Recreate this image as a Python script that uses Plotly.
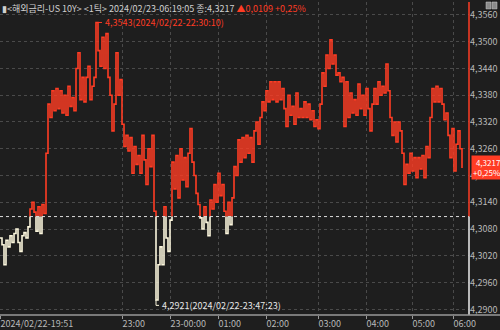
import plotly.graph_objects as go

# ---- data (1-tick series) ----
prices = [
    4.3060, 4.3045, 4.3000, 4.3055, 4.3040, 4.3065, 4.3050, 4.3070, 4.3080, 4.3050,
    4.3030, 4.3065, 4.3072, 4.3060, 4.3085, 4.3125, 4.3140, 4.3118, 4.3075, 4.3130,
    4.3070, 4.3135, 4.3115, 4.3250, 4.3360, 4.3330, 4.3390, 4.3345, 4.3395, 4.3350,
    4.3390, 4.3340, 4.3380, 4.3335, 4.3400, 4.3355, 4.3375, 4.3345, 4.3440, 4.3475,
    4.3370, 4.3420, 4.3365, 4.3420, 4.3445, 4.3370, 4.3400, 4.3420, 4.3543, 4.3480,
    4.3445, 4.3510, 4.3440, 4.3518, 4.3420, 4.3380, 4.3300, 4.3360, 4.3475, 4.3380,
    4.3415, 4.3315, 4.3265, 4.3290, 4.3255, 4.3285, 4.3205, 4.3265, 4.3225, 4.3245,
    4.3205, 4.3290, 4.3235, 4.3180, 4.3260, 4.3220, 4.3290, 4.3120, 4.2921, 4.3000,
    4.3040, 4.3000, 4.3130, 4.3060, 4.3030, 4.3100, 4.3230, 4.3170, 4.3245, 4.3150,
    4.3260, 4.3190, 4.3240, 4.3175, 4.3250, 4.3305, 4.3230, 4.3200, 4.3160, 4.3135,
    4.3105, 4.3080, 4.3130, 4.3095, 4.3065, 4.3145, 4.3125, 4.3180, 4.3140, 4.3205,
    4.3155, 4.3180, 4.3120, 4.3070, 4.3140, 4.3090, 4.3150, 4.3220, 4.3200, 4.3280,
    4.3230, 4.3285, 4.3240, 4.3290, 4.3250, 4.3285, 4.3230, 4.3300, 4.3320, 4.3270,
    4.3330, 4.3365, 4.3345, 4.3390, 4.3365, 4.3410, 4.3370, 4.3410, 4.3365, 4.3410,
    4.3370, 4.3395, 4.3350, 4.3310, 4.3380, 4.3335, 4.3355, 4.3315, 4.3385, 4.3330,
    4.3350, 4.3330, 4.3365, 4.3330, 4.3360, 4.3325, 4.3345, 4.3310, 4.3325, 4.3305,
    4.3360, 4.3430, 4.3400, 4.3470, 4.3440, 4.3504, 4.3450, 4.3470, 4.3425, 4.3430,
    4.3410, 4.3420, 4.3310, 4.3410, 4.3330, 4.3385, 4.3340, 4.3370, 4.3335, 4.3405,
    4.3350, 4.3380, 4.3335, 4.3395, 4.3350, 4.3300, 4.3360, 4.3395, 4.3360, 4.3410,
    4.3380, 4.3400, 4.3385, 4.3450, 4.3390, 4.3330, 4.3290, 4.3320, 4.3275, 4.3320,
    4.3300, 4.3250, 4.3180, 4.3225, 4.3205, 4.3250, 4.3210, 4.3240, 4.3195, 4.3240,
    4.3215, 4.3245, 4.3195, 4.3265, 4.3240, 4.3330, 4.3395, 4.3365, 4.3400, 4.3365,
    4.3395, 4.3360, 4.3325, 4.3340, 4.3290, 4.3240, 4.3305, 4.3210, 4.3270, 4.3300,
    4.3260, 4.3217,
]
prev_close = 4.3108
change = 0.0109
change_pct = 0.25
max_time = "2024/02/22-22:30:10"
min_time = "2024/02/22-23:47:23"
title_head = "▮<해외금리-US 10Y> <1틱> 2024/02/23-06:19:05"

x_tick_idx = [0, 61, 85, 109, 133, 159, 183, 206, 226.5]
x_tick_labels = ["2024/02/22-19:51", "23:00", "23-00:00", "01:00", "02:00",
                 "03:00", "04:00", "05:00", "06:00"]
y_ticks = [4.2900, 4.2960, 4.3020, 4.3080, 4.3140, 4.3200,
           4.3260, 4.3320, 4.3380, 4.3440, 4.3500, 4.3560]

RED = "#ff3c24"
CREAM = "#fbf6dc"
BG = "#1e1e1e"
GRID = "#4a4a4a"
TXT = "#b8b8b8"
FONT = "Liberation Sans Narrow, Noto Sans CJK KR, sans-serif"

def fmt(v, d=4):
    return f"{v:.{d}f}".replace(".", ",")

# split series at the previous-close baseline
xs, ys = [], []
for i, v in enumerate(prices):
    if i > 0 and (prices[i - 1] - prev_close) * (v - prev_close) < 0:
        xs.append(i)
        ys.append(prev_close)
    xs.append(i)
    ys.append(v)
red_y = [y if y >= prev_close else None for y in ys]
cream_y = [y if y <= prev_close else None for y in ys]

fig = go.Figure()
fig.add_trace(go.Scatter(x=xs, y=red_y, mode="lines", line=dict(color=RED, width=1.6, shape="hv"),
                         connectgaps=False, hoverinfo="skip"))
fig.add_trace(go.Scatter(x=xs, y=cream_y, mode="lines", line=dict(color=CREAM, width=1.6, shape="hv"),
                         connectgaps=False, hoverinfo="skip"))

n = len(prices)
imax = max(range(n), key=lambda i: prices[i])
imin = min(range(n), key=lambda i: prices[i])
last = prices[-1]

# baseline
fig.add_shape(type="line", xref="x domain", yref="y", x0=0, x1=1, y0=prev_close, y1=prev_close,
              line=dict(color="#dddddd", width=1, dash="dot"))
# right axis line, red above baseline, white below
fig.add_shape(type="line", xref="x domain", yref="y", x0=1, x1=1, y0=prev_close, y1=4.3589,
              line=dict(color=RED, width=1.5))
fig.add_shape(type="line", xref="x domain", yref="y", x0=1, x1=1, y0=4.2887, y1=prev_close,
              line=dict(color="#eeeeee", width=1.5))
# bottom axis line across the full width
fig.add_shape(type="line", xref="paper", yref="paper", x0=0, x1=500 / 469, y0=0, y1=0,
              line=dict(color="#9a9a9a", width=1.5))

# max marker
fig.add_shape(type="line", xref="x", yref="y", x0=imax, x1=imax + 3, y0=prices[imax], y1=prices[imax],
              line=dict(color=RED, width=1))
fig.add_annotation(x=imax + 3, y=prices[imax], text=f"{fmt(prices[imax])}({max_time})",
                   showarrow=False, xanchor="left", yanchor="middle", xshift=1,
                   font=dict(color=RED, size=9, family=FONT))
# min marker
fig.add_shape(type="path", xref="x", yref="y",
              path=f"M {imin},{prices[imin]} L {imin},{prices[imin]-0.0012} L {imin+1.5},{prices[imin]-0.0012}",
              line=dict(color=CREAM, width=1))
fig.add_annotation(x=imin + 1.5, y=prices[imin] - 0.0012, text=f"{fmt(prices[imin])}({min_time})",
                   showarrow=False, xanchor="left", yanchor="middle", xshift=1,
                   font=dict(color="#e6e6e6", size=9, family=FONT))

# title
fig.add_annotation(xref="paper", yref="paper", x=0, y=1, xanchor="left", yanchor="top", showarrow=False,
                   text=(f"<span style='color:#d0d0d0'>{title_head} 종:{fmt(last)}</span> "
                         f"<span style='color:{RED}'>▲{fmt(change)} +{fmt(change_pct, 2)}%</span>"),
                   font=dict(size=9, family=FONT), yshift=2)

# price tag
fig.add_annotation(xref="paper", yref="y", x=1, y=last, xanchor="left", yanchor="middle", showarrow=False,
                   text=f"{fmt(last)}<br>+{fmt(change_pct, 2)}%", align="right",
                   font=dict(color="white", size=8, family=FONT), bgcolor=RED, borderpad=1, xshift=2)

# tiny window icons top-right
for x0 in (486, 492):
    fig.add_shape(type="rect", xref="paper", yref="paper", x0=x0 / 469, x1=(x0 + 5) / 469,
                  y0=(318 - 9) / 316, y1=(318 - 2) / 316, fillcolor="#8a8a8a", line=dict(color="#cfcfcf", width=0.5))

fig.update_layout(
    width=500, height=330,
    margin=dict(l=0, r=31, t=2, b=12),
    paper_bgcolor=BG, plot_bgcolor=BG,
    showlegend=False,
    xaxis=dict(range=[0, 234.5], tickmode="array", tickvals=x_tick_idx, ticktext=x_tick_labels,
               showgrid=True, gridcolor=GRID, griddash="dot", gridwidth=1, zeroline=False,
               ticks="outside", ticklen=3, tickcolor="#9a9a9a", ticklabelposition="outside right",
               tickfont=dict(color=TXT, size=9, family=FONT), showline=False, fixedrange=True),
    yaxis=dict(range=[4.28874, 4.35889], side="right", tickmode="array", tickvals=y_ticks,
               ticktext=[fmt(v) for v in y_ticks], showgrid=True, gridcolor=GRID, griddash="dot",
               zeroline=False, ticks="", tickfont=dict(color=TXT, size=9, family=FONT), showline=False),
)

fig.write_html("out.html")
